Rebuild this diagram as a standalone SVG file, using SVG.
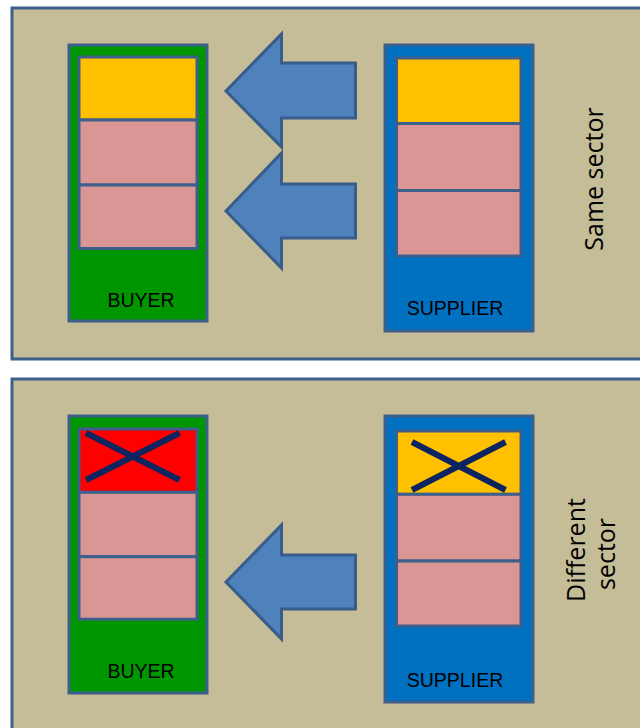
<svg xmlns="http://www.w3.org/2000/svg" width="640" height="728" viewBox="0 0 640 728">
  <style>
    .panel { fill: #c4bd97; stroke: #3c5f8c; stroke-width: 3; }
    .buyer { fill: #009600; stroke: #3c5f8c; stroke-width: 3; }
    .supplier { fill: #0070c0; stroke: #3c5f8c; stroke-width: 3; }
    .yellow { fill: #ffc000; stroke: #3c5f8c; stroke-width: 3; }
    .pink { fill: #d99694; stroke: #3c5f8c; stroke-width: 3; }
    .red { fill: #ff0000; stroke: #3c5f8c; stroke-width: 3; }
    .arrow { fill: #4f81bd; stroke: #385d8a; stroke-width: 3; stroke-linejoin: miter; }
    .cross { stroke: #0c2460; stroke-width: 6; }
    .lbl { font-family: "Liberation Sans", Arial, sans-serif; font-size: 19.5px; fill: #000; text-anchor: middle; }
    .sector { font-family: "Open Sans", "Liberation Sans", sans-serif; font-size: 25px; fill: #000; text-anchor: middle; }
  </style>

  <g id="panel-same">
    <rect class="panel" x="12" y="8" width="640" height="351"/>
    <text class="sector" transform="translate(603,179) rotate(-90)">Same sector</text>
  </g>
  <g id="panel-different">
    <rect class="panel" x="12" y="379" width="640" height="360"/>
    <text class="sector" transform="translate(585,550) rotate(-90)">Different</text>
    <text class="sector" transform="translate(615,554) rotate(-90)">sector</text>
  </g>

  <g id="buyer-same">
    <rect class="buyer" x="69" y="45" width="138" height="276"/>
    <rect class="yellow" x="79" y="57" width="118" height="63"/>
    <rect class="pink" x="79" y="120" width="118" height="65"/>
    <rect class="pink" x="79" y="185" width="118" height="63.5"/>
    <text class="lbl" x="141" y="306.5">BUYER</text>
  </g>
  <g id="supplier-same">
    <rect class="supplier" x="385" y="45" width="148" height="286"/>
    <rect class="yellow" x="396.5" y="58" width="124.5" height="65.5"/>
    <rect class="pink" x="396.5" y="123.5" width="124.5" height="67"/>
    <rect class="pink" x="396.5" y="190.5" width="124.5" height="65.5"/>
    <text class="lbl" x="455" y="315">SUPPLIER</text>
  </g>

  <g id="buyer-different">
    <rect class="buyer" x="69" y="416" width="138" height="277"/>
    <rect class="red" x="79" y="429" width="118" height="63.3"/>
    <rect class="pink" x="79" y="492.3" width="118" height="64.4"/>
    <rect class="pink" x="79" y="556.7" width="118" height="62.5"/>
    <line class="cross" x1="86" y1="433" x2="179.5" y2="480"/>
    <line class="cross" x1="86" y1="480" x2="179.5" y2="433"/>
    <text class="lbl" x="141" y="677.5">BUYER</text>
  </g>
  <g id="supplier-different">
    <rect class="supplier" x="385" y="416" width="148" height="286"/>
    <rect class="yellow" x="396.5" y="431" width="124.5" height="63.3"/>
    <rect class="pink" x="396.5" y="494.3" width="124.5" height="66.7"/>
    <rect class="pink" x="396.5" y="561" width="124.5" height="65"/>
    <line class="cross" x1="412" y1="442" x2="505.5" y2="490"/>
    <line class="cross" x1="412" y1="490" x2="505.5" y2="442"/>
    <text class="lbl" x="455" y="686.5">SUPPLIER</text>
  </g>

  <g id="connectors">
    <polygon class="arrow" points="226,91 281.5,34 281.5,63 355.5,63 355.5,118 281.5,118 281.5,147"/>
    <polygon class="arrow" points="226,211 281.5,153 281.5,184 355.5,184 355.5,238 281.5,238 281.5,268"/>
    <polygon class="arrow" points="226,582 281.5,525 281.5,555 355.5,555 355.5,609 281.5,609 281.5,639"/>
  </g>
</svg>
